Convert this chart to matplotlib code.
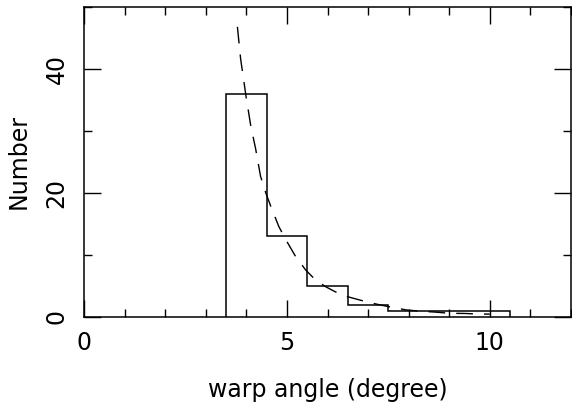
import matplotlib
matplotlib.use("Agg")
import matplotlib.pyplot as plt
from matplotlib.ticker import MultipleLocator

# Histogram data (bin edges and counts)
bin_edges = [3.5, 4.5, 5.5, 6.5, 7.5, 8.5, 9.5, 10.5]
counts = [36, 13, 5, 2, 1, 1, 1]

# Dashed fit curve
curve_x = [3.78, 3.86, 3.99, 4.11, 4.23, 4.35, 4.48, 4.60, 4.80, 4.97, 5.21,
           5.46, 5.70, 5.95, 6.27, 6.48, 6.93, 7.26, 7.58, 7.95, 8.32, 8.64,
           9.01, 9.38, 9.75, 10.0]
curve_y = [46.8, 41.6, 35.7, 30.8, 27.1, 22.7, 20.0, 17.9, 14.6, 12.5, 9.8,
           7.6, 6.0, 4.9, 3.8, 3.3, 2.5, 2.0, 1.57, 1.13, 0.92, 0.8,
           0.6, 0.57, 0.47, 0.47]

x_label = "warp angle (degree)"
y_label = "Number"

plt.rcParams['font.family'] = ['DejaVu Sans']
fig = plt.figure(figsize=(5.72, 4.07), dpi=100)
ax = fig.add_axes([84/572, 1-317/407, (571-84)/572, (317-7)/407])

ax.stairs(counts, bin_edges, color='black', linewidth=1.1)
ax.plot(curve_x, curve_y, color='black', linewidth=1.0, dashes=(12, 8))

ax.set_xlim(0, 12)
ax.set_ylim(0, 50)
ax.xaxis.set_major_locator(MultipleLocator(5))
ax.xaxis.set_minor_locator(MultipleLocator(1))
ax.yaxis.set_major_locator(MultipleLocator(20))
ax.yaxis.set_minor_locator(MultipleLocator(10))
ax.tick_params(which='both', direction='in', top=True, right=True,
               width=1.0, colors='black')
ax.tick_params(which='major', length=12, labelsize=17, pad=10)
ax.tick_params(which='minor', length=6)
ax.tick_params(axis='y', which='major', pad=11)
for lab in ax.get_yticklabels():
    lab.set_rotation(90)
    lab.set_va('center')
for sp in ax.spines.values():
    sp.set_linewidth(1.1)

ax.set_xlabel(x_label, fontsize=17, labelpad=17)
ax.set_ylabel(y_label, fontsize=17, labelpad=10)

fig.savefig("out.png", dpi=100)
